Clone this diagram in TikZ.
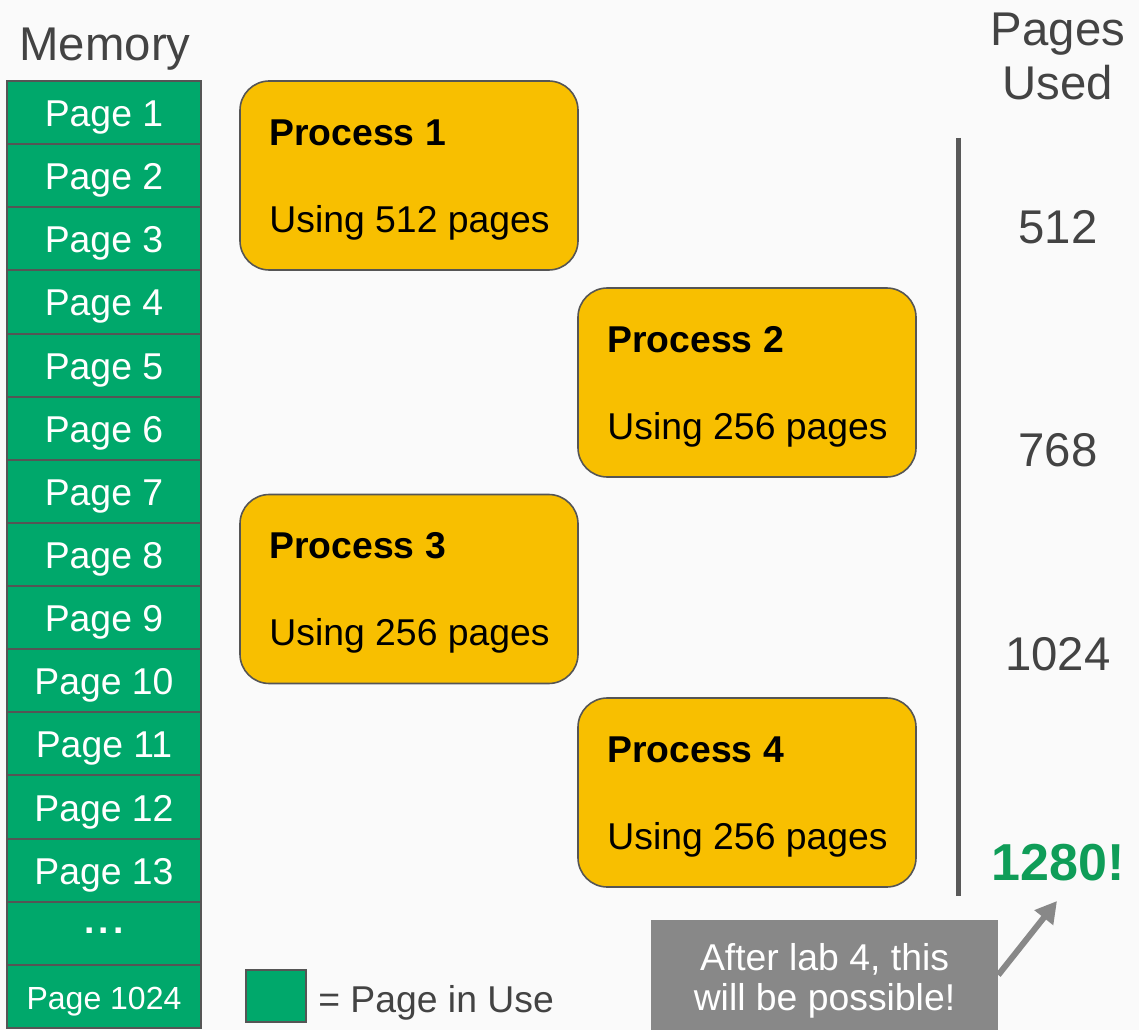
\documentclass[tikz,border=0pt]{standalone}
\usepackage{fontspec}
\setmainfont{Liberation Sans}
\usetikzlibrary{arrows.meta}

\definecolor{pagegreen}{HTML}{00A86B}
\definecolor{totalgreen}{HTML}{0F9D58}
\definecolor{procyellow}{HTML}{F8BF00}
\definecolor{edgegray}{HTML}{555555}
\definecolor{linegray}{HTML}{595959}
\definecolor{textgray}{HTML}{434343}
\definecolor{notegray}{HTML}{888888}
\definecolor{bggray}{HTML}{FAFAFA}

\newcommand{\bigtext}{\fontsize{35.5}{40}\selectfont}
\newcommand{\midtext}{\fontsize{28}{30}\selectfont}
\newcommand{\smalltext}{\fontsize{24}{27}\selectfont}

\tikzset{
  page/.style={draw=edgegray, line width=1.5pt, fill=pagegreen, text=white,
    minimum width=145.5pt, minimum height=47.35pt, inner sep=0pt, font=\midtext,
    text height=21pt, text depth=0pt},
  proc/.style={draw=edgegray, line width=1.2pt, fill=procyellow, rounded corners=22pt,
    minimum width=253.5pt, minimum height=141.75pt, inner sep=0pt},
  proctext/.style={anchor=base west, inner sep=0pt, font=\midtext},
  count/.style={anchor=base, inner sep=0pt, text=textgray, font=\bigtext},
  note/.style={fill=notegray, minimum width=260.25pt, minimum height=82.5pt, inner sep=0pt},
  notetext/.style={text=white, inner sep=0pt, align=center, font=\midtext},
  notearrow/.style={draw=notegray, line width=4.5pt, -{Triangle[length=16pt,width=17pt]}}
}

\begin{document}
\begin{tikzpicture}[x=0.75pt,y=-0.75pt]
\fill[bggray] (0,0) rectangle (1139,1030);
\useasboundingbox (0,0) rectangle (1139,1030);

% memory column
\node[anchor=base, inner sep=0pt, text=textgray, font=\bigtext] (memlabel) at (105,61) {Memory};
\node[page] (pg1) at (104,112.6) {Page 1};
\node[page] (pg2) at (104,175.7) {Page 2};
\node[page] (pg3) at (104,238.8) {Page 3};
\node[page] (pg4) at (104,302.0) {Page 4};
\node[page] (pg5) at (104,365.1) {Page 5};
\node[page] (pg6) at (104,428.2) {Page 6};
\node[page] (pg7) at (104,491.4) {Page 7};
\node[page] (pg8) at (104,554.5) {Page 8};
\node[page] (pg9) at (104,617.6) {Page 9};
\node[page] (pg10) at (104,680.8) {Page 10};
\node[page] (pg11) at (104,743.9) {Page 11};
\node[page] (pg12) at (104,807.0) {Page 12};
\node[page] (pg13) at (104,870.2) {Page 13};
\node[page, text height=0pt] (pgdots) at (104,933.3) {\textbf{.\hspace{3pt}.\hspace{3pt}.}};
\node[page, font=\smalltext, text height=19pt] (pg1024) at (104,996.4) {Page 1024};

% processes
\node[proc] (p1) at (409,175.5) {};
\node[proctext, font=\midtext\bfseries] (p1title) at ([shift={(30,65)}]p1.north west) {Process 1};
\node[proctext] (p1use) at ([shift={(30,152)}]p1.north west) {Using 512 pages};

\node[proc] (p2) at (747,382.5) {};
\node[proctext, font=\midtext\bfseries] (p2title) at ([shift={(30,65)}]p2.north west) {Process 2};
\node[proctext] (p2use) at ([shift={(30,152)}]p2.north west) {Using 256 pages};

\node[proc] (p3) at (409,589) {};
\node[proctext, font=\midtext\bfseries] (p3title) at ([shift={(30,65)}]p3.north west) {Process 3};
\node[proctext] (p3use) at ([shift={(30,152)}]p3.north west) {Using 256 pages};

\node[proc] (p4) at (747,792.5) {};
\node[proctext, font=\midtext\bfseries] (p4title) at ([shift={(30,65)}]p4.north west) {Process 4};
\node[proctext] (p4use) at ([shift={(30,152)}]p4.north west) {Using 256 pages};

% pages used
\node[anchor=north, inner sep=0pt, text=textgray, font=\bigtext, align=center] (used) at (1058,13) {Pages\\Used};
\coordinate (linetop) at (958,138);
\coordinate (linebot) at (958,896);
\draw[linegray, line width=3.75pt] (linetop) -- (linebot);
\node[count] (c512) at (1058,244) {512};
\node[count] (c768) at (1058,467) {768};
\node[count] (c1024) at (1058,670) {1024};
\node[count, text=totalgreen, font=\fontsize{39}{44}\selectfont\bfseries] (c1280) at (1058,880) {1280!};

% note
\node[note] (note) at (824.5,975) {};
\node[notetext] (notetext) at (824.5,981) {After lab 4, this\\will be possible!};
\coordinate (tip) at (1057,901);
\draw[notearrow] (note.east) -- (tip);

% legend
\node[draw=edgegray, line width=1.5pt, fill=pagegreen, minimum width=45pt, minimum height=39pt, inner sep=0pt] (key) at (276,996) {};
\node[anchor=base west, inner sep=0pt, text=textgray, font=\midtext] (keytext) at (318,1012) {= Page in Use};
\end{tikzpicture}
\end{document}
